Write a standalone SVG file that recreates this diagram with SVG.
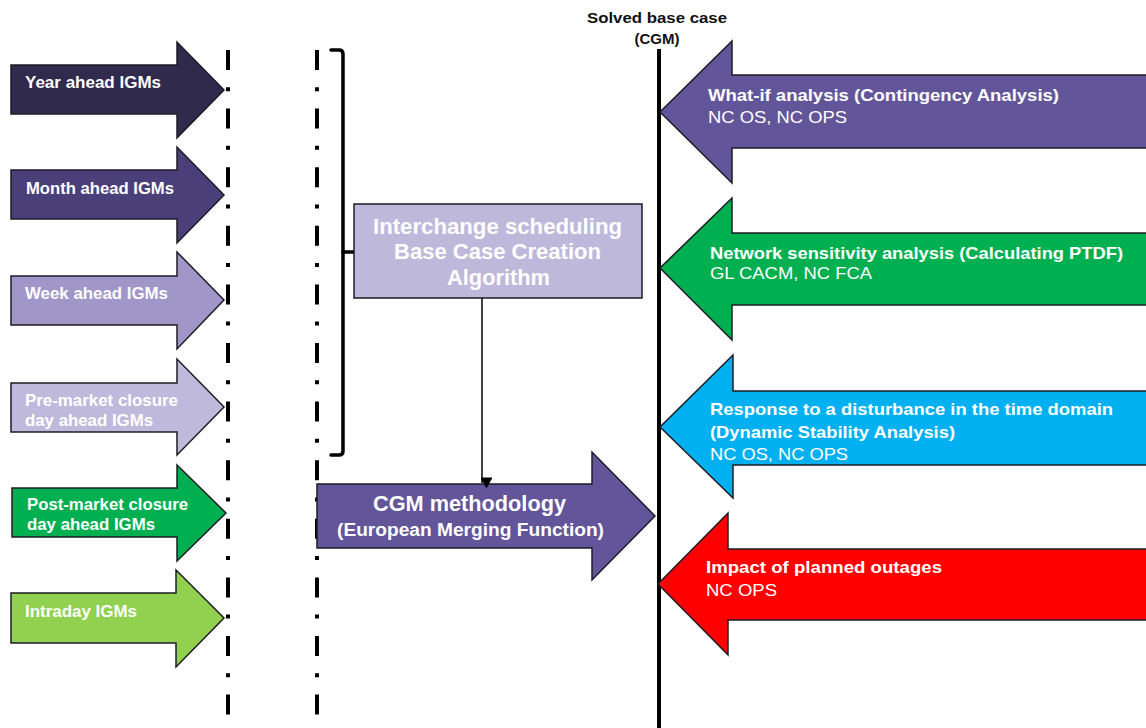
<svg xmlns="http://www.w3.org/2000/svg" width="1146" height="728" viewBox="0 0 1146 728">
  <style>
    .shape { stroke: #1c1c24; stroke-width: 1.5; stroke-linejoin: miter; }
    .lbl { font-family: "Liberation Sans", Arial, sans-serif; font-weight: bold; fill: #ffffff; font-size: 17px; }
    .sub { font-family: "Liberation Sans", Arial, sans-serif; font-weight: normal; fill: #ffffff; font-size: 17px; }
    .big { font-size: 22px; }
    .mid { font-size: 18px; }
    .head { font-family: "Liberation Sans", Arial, sans-serif; font-weight: bold; fill: #111111; font-size: 15px; }
    .dashdot { stroke: #000000; stroke-width: 4; fill: none; stroke-dasharray: 20 17.2 4 17.4; }
    .brace { stroke: #000000; stroke-width: 3.5; fill: none; stroke-linejoin: round; stroke-linecap: round; }
  </style>
  <defs>
    <marker id="tri" markerWidth="12" markerHeight="11" refX="6" refY="10" orient="auto-start-reverse" markerUnits="userSpaceOnUse" viewBox="0 0 12 11">
      <path d="M0,0 L12,0 L6,11 Z" fill="#000000" transform="rotate(-90 6 5.5)"/>
    </marker>
  </defs>

  <rect width="1146" height="728" fill="#ffffff"/>

  <!-- IGM input arrows -->
  <g id="year-ahead">
    <path class="shape" fill="#302A4D" d="M11,65 H177 V42 L224,90 L177,138 V114 H11 Z"/>
    <text class="lbl" x="25" y="88" textLength="136" lengthAdjust="spacingAndGlyphs">Year ahead IGMs</text>
  </g>
  <g id="month-ahead">
    <path class="shape" fill="#4B3F7A" d="M11,170 H177 V147 L224,195 L177,243 V219 H11 Z"/>
    <text class="lbl" x="26" y="194" textLength="148" lengthAdjust="spacingAndGlyphs">Month ahead IGMs</text>
  </g>
  <g id="week-ahead">
    <path class="shape" fill="#A096C8" d="M11,276 H177 V252 L224,300 L177,349 V325 H11 Z"/>
    <text class="lbl" x="25" y="299" textLength="143" lengthAdjust="spacingAndGlyphs">Week ahead IGMs</text>
  </g>
  <g id="pre-market">
    <path class="shape" fill="#BFB9DB" d="M11,383 H177 V359 L224,407 L177,455 V432 H11 Z"/>
    <text class="lbl" x="25" y="406" textLength="153" lengthAdjust="spacingAndGlyphs">Pre-market closure</text>
    <text class="lbl" x="25" y="426" textLength="128" lengthAdjust="spacingAndGlyphs">day ahead IGMs</text>
  </g>
  <g id="post-market">
    <path class="shape" fill="#00AF50" d="M12,488 H177 V465 L226,513 L177,561 V537 H12 Z"/>
    <text class="lbl" x="27" y="510" textLength="161" lengthAdjust="spacingAndGlyphs">Post-market closure</text>
    <text class="lbl" x="27" y="530" textLength="128" lengthAdjust="spacingAndGlyphs">day ahead IGMs</text>
  </g>
  <g id="intraday">
    <path class="shape" fill="#92D050" d="M11,593 H176 V570 L224,618 L176,667 V643 H11 Z"/>
    <text class="lbl" x="25" y="617" textLength="112" lengthAdjust="spacingAndGlyphs">Intraday IGMs</text>
  </g>

  <!-- dash-dot timeline separators -->
  <g id="separators">
    <line class="dashdot" x1="228" y1="50" x2="228" y2="716"/>
    <line class="dashdot" x1="317" y1="50" x2="317" y2="716"/>
  </g>

  <!-- bracket grouping the day-ahead and longer horizons -->
  <g id="bracket">
    <path class="brace" d="M331,50 H339 Q343,50 343,54 V451 Q343,455 339,455 H331"/>
    <line class="brace" x1="343" y1="252" x2="355" y2="252"/>
  </g>

  <!-- base case creation box -->
  <g id="base-case-creation">
    <rect class="shape" x="354" y="204" width="288" height="94" fill="#BEB8DA"/>
    <text class="lbl big" x="373" y="234" textLength="249" lengthAdjust="spacingAndGlyphs">Interchange scheduling</text>
    <text class="lbl big" x="394" y="259" textLength="207" lengthAdjust="spacingAndGlyphs">Base Case Creation</text>
    <text class="lbl big" x="447" y="285" textLength="103" lengthAdjust="spacingAndGlyphs">Algorithm</text>
  </g>

  <!-- merging arrow -->
  <g id="cgm-methodology">
    <path class="shape" fill="#62559A" d="M317,484 H592 V452 L655,516 L592,580 V548 H317 Z"/>
    <text class="lbl big" x="373" y="511" textLength="193" lengthAdjust="spacingAndGlyphs">CGM methodology</text>
    <text class="lbl mid" x="337" y="536" textLength="267" lengthAdjust="spacingAndGlyphs">(European Merging Function)</text>
  </g>

  <!-- connectors -->
  <g id="connectors">
    <line x1="482" y1="298" x2="482" y2="483" stroke="#000000" stroke-width="1.5" marker-end="url(#tri)"/>
  </g>

  <!-- solved base case axis -->
  <g id="solved-base-case">
    <text class="head" x="657" y="23" text-anchor="middle" textLength="140" lengthAdjust="spacingAndGlyphs">Solved base case</text>
    <text class="head" x="657" y="44" text-anchor="middle">(CGM)</text>
    <line x1="659" y1="49" x2="659" y2="728" stroke="#000000" stroke-width="4"/>
  </g>

  <!-- analyses feeding back to the base case -->
  <g id="what-if">
    <path class="shape" fill="#62559A" d="M1150,75 H732 V41 L660,112 L732,183 V148 H1150 Z"/>
    <text class="lbl" x="708" y="101" textLength="351" lengthAdjust="spacingAndGlyphs">What-if analysis (Contingency Analysis)</text>
    <text class="sub" x="708" y="123" textLength="139" lengthAdjust="spacingAndGlyphs">NC OS, NC OPS</text>
  </g>
  <g id="sensitivity">
    <path class="shape" fill="#00B050" d="M1150,233 H732 V198 L660,268 L732,340 V305 H1150 Z"/>
    <text class="lbl" x="710" y="259" textLength="413" lengthAdjust="spacingAndGlyphs">Network sensitivity analysis (Calculating PTDF)</text>
    <text class="sub" x="710" y="279" textLength="162" lengthAdjust="spacingAndGlyphs">GL CACM, NC FCA</text>
  </g>
  <g id="dynamic-stability">
    <path class="shape" fill="#00B0F0" d="M1150,391 H733 V355 L660,427 L733,498 V465 H1150 Z"/>
    <text class="lbl" x="710" y="415" textLength="403" lengthAdjust="spacingAndGlyphs">Response to a disturbance in the time domain</text>
    <text class="lbl" x="710" y="438" textLength="245" lengthAdjust="spacingAndGlyphs">(Dynamic Stability Analysis)</text>
    <text class="sub" x="710" y="460" textLength="138" lengthAdjust="spacingAndGlyphs">NC OS, NC OPS</text>
  </g>
  <g id="planned-outages">
    <path class="shape" fill="#FF0000" d="M1150,549 H728 V513 L658,584 L728,655 V620 H1150 Z"/>
    <text class="lbl" x="706" y="573" textLength="236" lengthAdjust="spacingAndGlyphs">Impact of planned outages</text>
    <text class="sub" x="706" y="596" textLength="71" lengthAdjust="spacingAndGlyphs">NC OPS</text>
  </g>
</svg>
